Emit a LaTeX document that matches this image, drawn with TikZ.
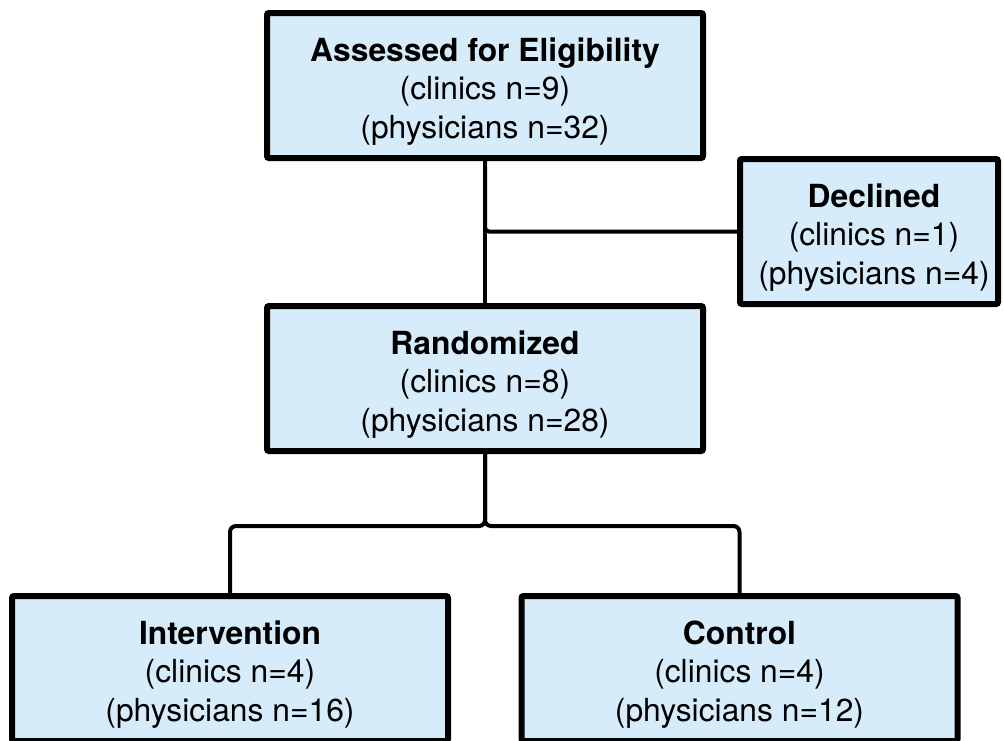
\documentclass[tikz,border=0pt]{standalone}
\usepackage{fontspec}
\setmainfont{TeX Gyre Heros}
\definecolor{boxfill}{RGB}{214,236,250}
\begin{document}
\begin{tikzpicture}[x=1pt,y=-1pt,
  flowbox/.style={draw=black, line width=6pt, fill=boxfill, rounded corners=2pt,
    minimum width=436pt, minimum height=145pt, inner sep=0pt},
  boxtext/.style={anchor=north, align=center, inner sep=0pt,
    font=\fontsize{31.8}{38.5}\selectfont},
  conn/.style={draw=black, line width=4pt}]
\useasboundingbox (0,0) rectangle (1004,740);
\clip (0,0) rectangle (1004,740);

% boxes
\node[flowbox] (assess) at (485,85.5) {};
\node[flowbox, minimum width=258pt] (declined) at (869,231.5) {};
\node[flowbox] (random) at (485,378.5) {};
\node[flowbox] (interv) at (230,668.5) {};
\node[flowbox] (control) at (739.5,668.5) {};

% box texts
\node[boxtext] (assesstxt) at ([yshift=-27.5pt]assess.north)
  {\textbf{Assessed for Eligibility}\\(clinics n=9)\\(physicians n=32)};
\node[boxtext] (declinedtxt) at ([xshift=5pt,yshift=-27.5pt]declined.north)
  {\textbf{Declined}\\(clinics n=1)\\(physicians n=4)};
\node[boxtext] (randomtxt) at ([yshift=-27.5pt]random.north)
  {\textbf{Randomized}\\(clinics n=8)\\(physicians n=28)};
\node[boxtext] (intervtxt) at ([yshift=-27.5pt]interv.north)
  {\textbf{Intervention}\\(clinics n=4)\\(physicians n=16)};
\node[boxtext] (controltxt) at ([yshift=-27.5pt]control.north)
  {\textbf{Control}\\(clinics n=4)\\(physicians n=12)};

% connectors
\draw[conn] (assess.south) -- (random.north);
\draw[conn, rounded corners=4pt] (assess.south) |- (declined.west);
\draw[conn, rounded corners=6pt] (random.south) -- ++(0,72) -| (interv.north);
\draw[conn, rounded corners=6pt] (random.south) -- ++(0,72) -| (control.north);
\end{tikzpicture}
\end{document}
